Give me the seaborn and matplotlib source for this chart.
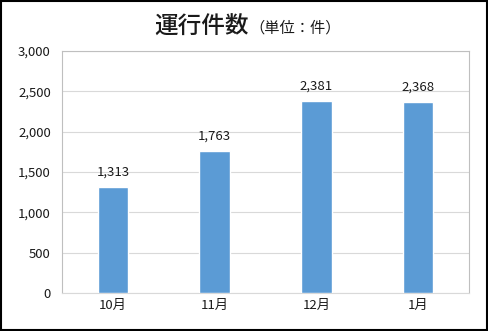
import matplotlib
matplotlib.use("Agg")
import matplotlib.pyplot as plt
import seaborn as sns
import pandas as pd
from matplotlib.patches import Rectangle

months = ["10月", "11月", "12月", "1月"]
counts = [1313, 1763, 2381, 2368]
yticks = [0, 500, 1000, 1500, 2000, 2500, 3000]

sns.set_theme(style="white")
plt.rcParams['font.family'] = ['Noto Sans CJK JP', 'DejaVu Sans']

df = pd.DataFrame({"month": months, "count": counts})

fig = plt.figure(figsize=(4.88, 3.31), dpi=100)
ax = fig.add_axes([62/488, 1-293/331, (469-62)/488, (293-51)/331])

sns.barplot(data=df, x="month", y="count", color="#5b9bd5", width=0.3,
            saturation=1, ax=ax, zorder=3)

ax.set_ylim(0, 3000)
ax.set_yticks(yticks)
ax.set_yticklabels([f"{v:,}" for v in yticks], fontsize=9.5, color="#1a1a1a")
ax.tick_params(axis='x', labelsize=9.5, colors="#1a1a1a", length=0, pad=4)
ax.tick_params(axis='y', length=0, pad=8)
ax.set_xlabel("")
ax.set_ylabel("")
ax.yaxis.grid(True, color="#d9d9d9", linewidth=0.8, zorder=0)
ax.set_axisbelow(True)
for side in ["left", "right", "top"]:
    ax.spines[side].set_color("#bfbfbf")
    ax.spines[side].set_linewidth(0.8)
ax.spines["bottom"].set_color("#d9d9d9")
ax.spines["bottom"].set_linewidth(0.8)

for container in ax.containers:
    ax.bar_label(container, labels=[f"{v:,}" for v in counts], padding=6,
                 fontsize=9.5, color="#1a1a1a")

fig.text(249/488, 1-27/331, "運行件数", ha="right", va="center",
         fontsize=17, fontweight="medium", color="#1a1a1a")
fig.text(249/488, 1-28/331, "（単位：件）", ha="left", va="center",
         fontsize=11, color="#1a1a1a")

fig.patches.append(Rectangle((0.002, 0.003), 0.996, 0.994, transform=fig.transFigure,
                             fill=False, edgecolor="black", linewidth=1.5))

fig.savefig("out.png", dpi=100)
